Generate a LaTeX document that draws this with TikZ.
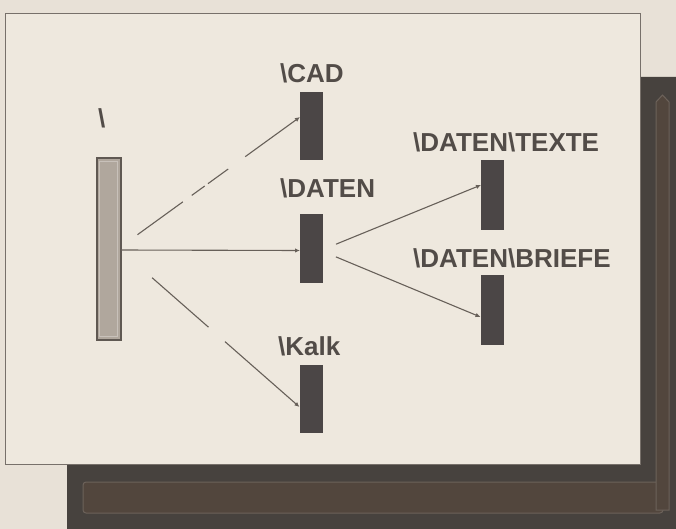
\documentclass[tikz,border=0pt]{standalone}
\usepackage{fontspec}
\newfontfamily\labfam{Liberation Sans}
\usetikzlibrary{arrows.meta,calc}
\definecolor{bgc}{HTML}{E8E1D7}
\definecolor{panelc}{HTML}{EEE8DE}
\definecolor{framec}{HTML}{77706A}
\definecolor{shadowc}{HTML}{47423E}
\definecolor{stripec}{HTML}{52463D}
\definecolor{stripeedge}{HTML}{6C625A}
\definecolor{barc}{HTML}{4B4646}
\definecolor{rootc}{HTML}{B0A79D}
\definecolor{rootedge}{HTML}{5F5852}
\definecolor{txtc}{HTML}{524C48}
\definecolor{linec}{HTML}{676059}
\tikzset{
  bar/.style={draw=none, fill=barc, minimum width=23pt, inner sep=0pt, outer sep=0pt},
  rootbar/.style={draw=rootedge, line width=2pt, fill=rootc, minimum width=24pt, inner sep=0pt, outer sep=0pt},
  lbl/.style={font={\labfam\bfseries\fontsize{26}{30}\selectfont}, text=txtc, inner sep=0pt, anchor=base west},
  link/.style={draw=linec, line width=1.1pt, -{Latex[length=5pt,width=4.5pt]}},
}
\begin{document}
\begin{tikzpicture}[x=1pt,y=-1pt]
\useasboundingbox (0,0) rectangle (676,529);
\fill[bgc] (0,0) rectangle (676,529);
% shadow frame
\fill[shadowc] (640,77) -- (676,77) -- (676,529) -- (67,529) -- (67,465) -- (640,465) -- cycle;
\fill[stripec, draw=stripeedge, line width=1pt, rounded corners=3pt] (83,482) rectangle (663,513);
\fill[stripec, draw=stripeedge, line width=1pt] (656,510) -- (656,102) -- (662.5,95) -- (669,102) -- (669,510) -- cycle;
% panel
\fill[panelc, draw=framec, line width=0.9pt] (5,13) rectangle (640,464);
% bars
\node[rootbar, minimum height=181pt] (root) at (108.5,249) {};
\draw[rootc!70!white, line width=0.8pt] ([shift={(3pt,-3pt)}]root.north west) rectangle ([shift={(-3pt,3pt)}]root.south east);
\node[bar, minimum height=68pt] (cad) at (311.5,126) {};
\node[bar, minimum height=69pt] (daten) at (311.5,248.5) {};
\node[bar, minimum height=68pt] (kalk) at (311,399) {};
\node[bar, minimum height=70pt] (texte) at (492.5,195) {};
\node[bar, minimum height=70pt] (briefe) at (492,310) {};
% labels
\node[lbl] (lroot) at (98,128) {\textbackslash};
\node[lbl] (lcad) at (280,83) {\textbackslash CAD};
\node[lbl] (ldaten) at (280,197) {\textbackslash DATEN};
\node[lbl] (lkalk) at (278,355) {\textbackslash Kalk};
\node[lbl] (ltexte) at (413,152) {\textbackslash DATEN\textbackslash TEXTE};
\node[lbl] (lbriefe) at (413,267) {\textbackslash DATEN\textbackslash BRIEFE};
% connectors
\draw[link, dash pattern=on 56pt off 11pt on 16pt off 4pt on 25pt off 21pt on 300pt, shorten <=21pt]
  ([yshift=2pt]root.east) -- ([yshift=9pt]cad.west);
\draw[link] ([yshift=-1pt]root.east) -- ([yshift=-2pt]daten.west);
\draw[link, dash pattern=on 75pt off 22pt on 300pt, shorten <=42pt]
  ([yshift=-1pt]root.east) -- ([yshift=-8pt]kalk.west);
\draw[link, shorten <=14pt] ([yshift=-1pt]daten.east) -- ([yshift=10pt]texte.west);
\draw[link, shorten <=14pt] ([yshift=-3pt]daten.east) -- ([yshift=-7pt]briefe.west);
\end{tikzpicture}
\end{document}
